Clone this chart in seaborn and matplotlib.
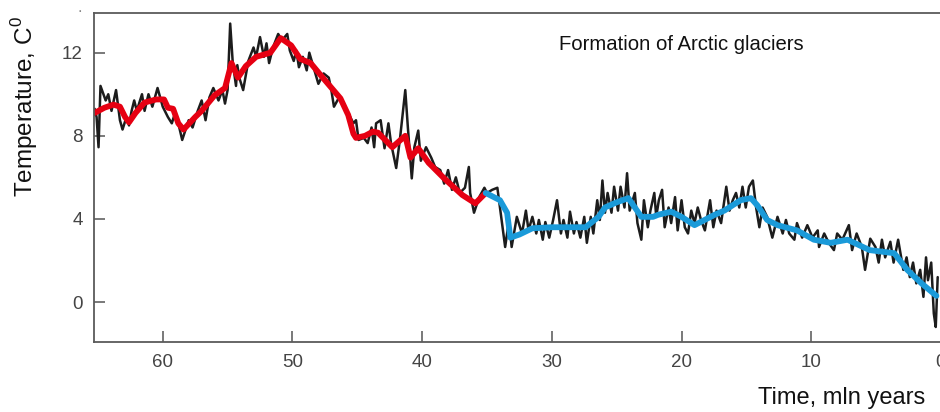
import numpy as np
import pandas as pd
import matplotlib
matplotlib.use("Agg")
import matplotlib.pyplot as plt
import seaborn as sns

# raw temperature record (age in mln years, temperature in C)
raw_age = [65.25, 65.1, 64.95, 64.8, 64.4, 64.2, 63.95, 63.6, 63.3, 63.1, 62.8, 62.6,
           62.4, 62.2, 62.0, 61.6, 61.4, 61.1, 60.8, 60.4, 60.0, 59.6, 59.3, 59.05,
           58.8, 58.5, 58.0, 57.7, 57.3, 57.0, 56.7, 56.4, 56.1, 55.7, 55.4, 55.2,
           55.0, 54.8, 54.6, 54.35, 54.25, 54.1, 53.8, 53.4, 53.0, 52.8, 52.5, 52.2,
           52.0, 51.8, 51.5, 51.1, 50.8, 50.4, 50.2, 49.9, 49.7, 49.5, 49.2, 48.9,
           48.7, 48.3, 48.0, 47.6, 47.2, 47.0, 46.8, 46.4, 46.0, 45.7, 45.3, 45.1,
           44.9, 44.5, 44.2, 43.9, 43.7, 43.55, 43.2, 42.9, 42.6, 42.4, 42.0, 41.7,
           41.3, 41.1, 40.8, 40.6, 40.3, 40.1, 39.7, 39.3, 39.0, 38.6, 38.3, 38.0,
           37.7, 37.4, 37.1, 36.7, 36.4, 36.3, 36.0, 35.6, 35.2, 35.0, 34.6, 34.2,
           34.0, 33.6, 33.3, 33.1, 32.7, 32.3, 32.0, 31.8, 31.5, 31.2, 31.0, 30.7,
           30.5, 30.2, 29.9, 29.6, 29.3, 29.1, 28.8, 28.6, 28.3, 28.1, 27.8, 27.5,
           27.3, 27.0, 26.8, 26.5, 26.3, 26.1, 25.9, 25.7, 25.4, 25.2, 24.9, 24.7,
           24.4, 24.2, 24.0, 23.6, 23.4, 23.1, 22.9, 22.6, 22.4, 22.1, 21.95, 21.75,
           21.5, 21.3, 21.0, 20.8, 20.5, 20.3, 20.0, 19.75, 19.5, 19.25, 19.0, 18.75,
           18.5, 18.2, 17.8, 17.55, 17.3, 16.95, 16.55, 16.3, 16.05, 15.8, 15.55, 15.3,
           15.05, 14.8, 14.5, 14.25, 14.0, 13.75, 13.4, 13.0, 12.6, 12.2, 11.95, 11.7,
           11.3, 11.1, 10.7, 10.3, 9.9, 9.5, 9.4, 9.0, 8.65, 8.25, 8.0, 7.6,
           7.1, 6.85, 6.5, 6.1, 5.85, 5.45, 5.05, 4.8, 4.55, 4.3, 3.9, 3.65,
           3.3, 2.9, 2.65, 2.4, 2.15, 1.9, 1.6, 1.35, 1.15, 1.0, 0.75, 0.55,
           0.4, 0.25]
raw_temp = [9.3, 8.9, 7.45, 10.4, 9.7, 10.0, 9.2, 10.2, 8.75, 8.3, 8.9, 8.5,
            9.2, 9.7, 9.2, 10.0, 9.2, 10.0, 9.4, 10.3, 9.4, 8.9, 8.6, 9.1,
            8.6, 7.8, 8.75, 8.4, 9.2, 9.7, 8.75, 9.85, 10.3, 9.7, 10.2, 9.55,
            10.2, 13.4, 11.5, 10.4, 11.4, 10.8, 10.2, 11.6, 12.25, 11.8, 12.75, 11.8,
            12.45, 11.5, 12.25, 12.9, 12.6, 12.9, 12.1, 11.6, 12.1, 11.3, 11.8, 11.15,
            12.0, 11.15, 10.5, 11.0, 10.8, 10.2, 9.4, 9.85, 9.4, 9.1, 8.6, 8.75,
            7.8, 7.9, 7.65, 8.4, 7.45, 8.6, 8.75, 7.4, 8.6, 7.65, 6.45, 7.9,
            10.2, 8.4, 5.95, 7.45, 8.25, 6.8, 7.45, 6.95, 6.5, 6.35, 5.7, 6.35,
            5.4, 6.0, 5.25, 5.5, 6.5, 5.25, 4.3, 5.05, 5.5, 5.25, 5.4, 5.5,
            4.55, 2.65, 3.95, 2.65, 4.1, 3.3, 4.4, 3.45, 4.1, 3.3, 3.95, 3.0,
            3.85, 3.1, 3.95, 4.9, 3.3, 3.95, 3.1, 4.35, 3.3, 3.85, 3.1, 4.1,
            2.85, 4.1, 3.3, 4.9, 3.95, 5.85, 4.3, 5.25, 4.3, 5.55, 4.4, 5.55,
            4.55, 6.2, 4.4, 5.25, 3.8, 3.0, 4.9, 3.6, 4.4, 5.25, 4.1, 4.9,
            5.4, 3.6, 4.55, 3.8, 5.05, 3.45, 4.9, 3.6, 3.3, 4.4, 3.8, 4.55,
            3.95, 3.45, 4.9, 3.6, 4.4, 3.8, 5.55, 4.4, 4.9, 5.25, 4.55, 5.55,
            4.55, 5.55, 5.85, 4.55, 3.6, 4.55, 4.1, 3.1, 4.1, 3.3, 3.95, 3.3,
            3.0, 3.8, 3.1, 3.7, 3.1, 3.45, 2.65, 3.3, 2.85, 2.5, 3.3, 3.0,
            3.7, 2.5, 3.3, 2.65, 1.55, 3.05, 2.65, 1.9, 3.0, 2.15, 2.9, 1.9,
            3.0, 1.55, 2.15, 1.2, 1.9, 0.9, 1.55, 0.25, 2.15, 1.05, 1.9, -0.55,
            -1.2, 1.2]

# smoothed trend before the glaciation (red)
warm_age = [65.25, 64.5, 63.8, 63.3, 62.9, 62.6, 62.1, 61.4, 60.5, 59.9, 59.6, 59.2,
            58.8, 58.4, 57.5, 57.0, 56.0, 55.2, 54.7, 54.2, 53.6, 52.8, 51.7, 50.9,
            50.1, 49.4, 48.6, 47.8, 46.3, 45.7, 45.3, 45.1, 44.4, 43.8, 43.4, 42.3,
            41.3, 40.9, 40.3, 39.5, 38.3, 36.9, 35.9, 35.1]
warm_temp = [9.1, 9.35, 9.5, 9.4, 8.9, 8.65, 9.1, 9.6, 9.75, 9.75, 9.35, 9.3,
             8.6, 8.3, 8.9, 9.2, 9.95, 10.3, 11.5, 10.8, 11.35, 11.8, 12.0, 12.7,
             12.35, 11.7, 11.5, 10.9, 9.8, 9.0, 8.1, 7.9, 8.0, 8.2, 8.15, 7.45,
             8.0, 6.95, 7.4, 6.7, 5.95, 5.15, 4.75, 5.25]

# smoothed trend after (blue)
cold_age = [35.1, 34.0, 33.45, 33.2, 32.5, 31.5, 30.0, 28.5, 27.4, 26.4, 25.9, 25.0,
            24.1, 23.6, 23.1, 22.2, 21.8, 20.8, 20.0, 19.0, 17.45, 16.7, 15.45, 14.65,
            14.15, 13.4, 12.6, 11.1, 9.8, 8.5, 7.2, 5.5, 3.6, 2.6, 1.5, 0.35]
cold_temp = [5.25, 4.9, 4.3, 3.1, 3.25, 3.55, 3.6, 3.6, 3.6, 4.1, 4.55, 4.8,
             5.0, 4.55, 4.1, 4.1, 4.2, 4.35, 4.1, 3.7, 4.2, 4.4, 4.9, 5.0,
             4.65, 3.95, 3.7, 3.45, 3.0, 2.85, 3.0, 2.5, 2.35, 1.55, 0.9, 0.3]

x_ticks = [60, 50, 40, 30, 20, 10, 0]
y_ticks = [0, 4, 8, 12]

sns.set_style("ticks")
plt.rcParams['font.family'] = ['Liberation Sans', 'DejaVu Sans']
plt.rcParams['mathtext.fontset'] = 'custom'
plt.rcParams['mathtext.rm'] = 'Liberation Sans'

fig = plt.figure(figsize=(9.4, 4.12), dpi=100)
ax = fig.add_axes([0.1, 0.170, 0.9010, 0.798])

df_raw = pd.DataFrame({'age': raw_age, 'temp': raw_temp})
df_warm = pd.DataFrame({'age': warm_age, 'temp': warm_temp})
df_cold = pd.DataFrame({'age': cold_age, 'temp': cold_temp})

sns.lineplot(data=df_raw, x='age', y='temp', sort=False, estimator=None,
             color='#1c1c1c', linewidth=1.8, ax=ax)
sns.lineplot(data=df_warm, x='age', y='temp', sort=False, estimator=None,
             color='#e60012', linewidth=4.2, ax=ax, solid_joinstyle='round', solid_capstyle='round')
sns.lineplot(data=df_cold, x='age', y='temp', sort=False, estimator=None,
             color='#1a9ad9', linewidth=4.2, ax=ax, solid_joinstyle='round', solid_capstyle='round')

ax.set_xlim(65.3, 0)
ax.set_ylim(-1.92, 13.9)
ax.set_xticks(x_ticks)
ax.set_yticks(y_ticks)
ax.set_xlabel('')
ax.set_ylabel('')
ax.tick_params(direction='in', length=8, width=1.1, color='#555555',
               labelcolor='#444444', labelsize=13.5, pad=9)
ax.tick_params(axis='y', pad=8)
for s in ['left', 'bottom', 'top']:
    ax.spines[s].set_color('#5a5a5a')
    ax.spines[s].set_linewidth(1.3)
ax.spines['right'].set_visible(False)

ax.text(20.0, 12.4, 'Formation of Arctic glaciers', ha='center', va='center',
        fontsize=14.6, color='#111111')
fig.text(842 / 940, 1 - 398 / 412, 'Time, mln years', ha='center', va='center',
         fontsize=17, color='#111111')
fig.text(25 / 940, 1 - 107 / 412, r'Temperature, C$^{\mathrm{0}}$', ha='center', va='center',
         rotation=90, fontsize=17.5, color='#111111')
fig.text(80 / 940, 1 - 8 / 412, '.', ha='center', va='center', fontsize=12, color='#888888')

fig.savefig('out.png', dpi=100)
